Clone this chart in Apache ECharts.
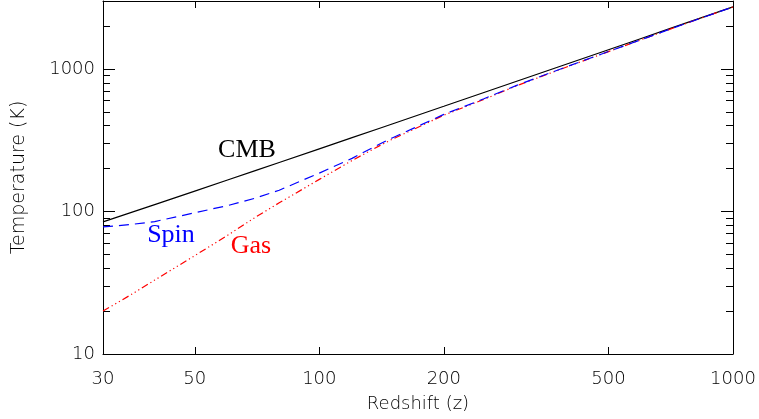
<!DOCTYPE html>
<html>
<head>
<meta charset="utf-8">
<script src="https://cdn.jsdelivr.net/npm/echarts@6/dist/echarts.min.js"></script>
<style>
html,body{margin:0;padding:0;background:#fff;}
#chart{width:759px;height:419px;}
</style>
</head>
<body>
<div id="chart"></div>
<script>
// Redshift samples
const redshift = [30, 35, 40, 50, 60, 70, 80, 100, 120, 140, 150, 200, 250, 300, 400, 500, 600, 700, 800, 1000];
// Temperatures (K)
const tempCMB  = [84.5, 98.1, 111.7, 139.0, 166.2, 193.5, 220.7, 275.2, 329.7, 384.2, 411.5, 547.7, 684.0, 820.2, 1092.7, 1365.2, 1637.7, 1910.2, 2182.7, 2727.7];
const tempGas  = [20, 26, 33, 49, 68, 91, 115, 168, 228, 290, 321, 474, 612, 763, 1044, 1324, 1605, 1891, 2172, 2725];
const tempSpin = [78, 81, 85, 98, 110, 124, 141, 186, 236, 298, 328, 480, 618, 768, 1048, 1326, 1607, 1892, 2173, 2726];
// Tick values
const xTickValues = [30, 50, 100, 200, 500, 1000];
const yMajorTicks = [10, 100, 1000];
const yMinorTicks = [20, 30, 40, 50, 60, 70, 80, 90, 200, 300, 400, 500, 600, 700, 800, 900, 2000, 3000];

const pairs = (ys) => redshift.map((z, i) => [z, ys[i]]);
const fmt = (v) => String(Math.round(v));

const labelFont = { fontFamily: 'DejaVu Sans', fontWeight: 200, fontSize: 18, color: '#000' };
const tickLine = { color: '#000', width: 1 };

const chart = echarts.init(document.getElementById('chart'), null, { renderer: 'canvas' });

function yAx(position, major, showLabel) {
  return {
    type: 'log', logBase: 10, min: 10, max: 3000, position: position,
    axisLine: { show: major, lineStyle: tickLine },
    axisTick: { show: true, inside: true, length: major ? 12 : 7, customValues: major ? yMajorTicks : yMinorTicks, lineStyle: tickLine },
    axisLabel: showLabel ? Object.assign({ show: true, customValues: yMajorTicks, formatter: fmt, margin: 8 }, labelFont) : { show: false },
    splitLine: { show: false },
    minorTick: { show: false }
  };
}

chart.setOption({
  animation: false,
  backgroundColor: '#fff',
  grid: { left: 103, right: 26, top: 1, bottom: 65 },
  xAxis: [
    {
      type: 'log', logBase: 10, min: 30, max: 1000, position: 'bottom',
      axisLine: { lineStyle: tickLine },
      axisTick: { inside: true, length: 7, customValues: xTickValues, lineStyle: tickLine },
      axisLabel: Object.assign({ customValues: xTickValues, formatter: fmt, margin: 16 }, labelFont),
      splitLine: { show: false },
      name: 'Redshift (z)', nameLocation: 'middle', nameGap: 41,
      nameTextStyle: { fontFamily: 'DejaVu Sans', fontWeight: 200, fontSize: 18, color: '#000' }
    },
    {
      type: 'log', logBase: 10, min: 30, max: 1000, position: 'top',
      axisLine: { lineStyle: tickLine },
      axisTick: { inside: true, length: 7, customValues: xTickValues, lineStyle: tickLine },
      axisLabel: { show: false },
      splitLine: { show: false }
    }
  ],
  yAxis: [
    Object.assign(yAx('left', true, true), {
      name: 'Temperature (K)', nameLocation: 'middle', nameGap: 74, nameRotate: 90,
      nameTextStyle: { fontFamily: 'DejaVu Sans', fontWeight: 200, fontSize: 19, color: '#000' }
    }),
    yAx('right', true, false),
    yAx('left', false, false),
    yAx('right', false, false)
  ],
  series: [
    {
      name: 'CMB', type: 'line', xAxisIndex: 0, yAxisIndex: 0, showSymbol: false,
      data: pairs(tempCMB), lineStyle: { color: '#000', width: 1.2, type: 'solid' }, z: 3
    },
    {
      name: 'Gas', type: 'line', xAxisIndex: 0, yAxisIndex: 0, showSymbol: false,
      data: pairs(tempGas), lineStyle: { color: '#ff0000', width: 1.2, type: [7, 3, 1.2, 3, 1.2, 3, 1.2, 3] }, z: 4
    },
    {
      name: 'Spin', type: 'line', xAxisIndex: 0, yAxisIndex: 0, showSymbol: false,
      data: pairs(tempSpin), lineStyle: { color: '#0000ff', width: 1.2, type: [10, 6] }, z: 5
    }
  ],
  graphic: [
    { type: 'text', x: 247, y: 150, style: { text: 'CMB', fill: '#000', font: '26px "Liberation Serif"', textAlign: 'center', textVerticalAlign: 'middle' } },
    { type: 'text', x: 171, y: 235, style: { text: 'Spin', fill: '#0000ff', font: '26px "Liberation Serif"', textAlign: 'center', textVerticalAlign: 'middle' } },
    { type: 'text', x: 251, y: 246, style: { text: 'Gas', fill: '#ff0000', font: '26px "Liberation Serif"', textAlign: 'center', textVerticalAlign: 'middle' } }
  ]
});
</script>
</body>
</html>
